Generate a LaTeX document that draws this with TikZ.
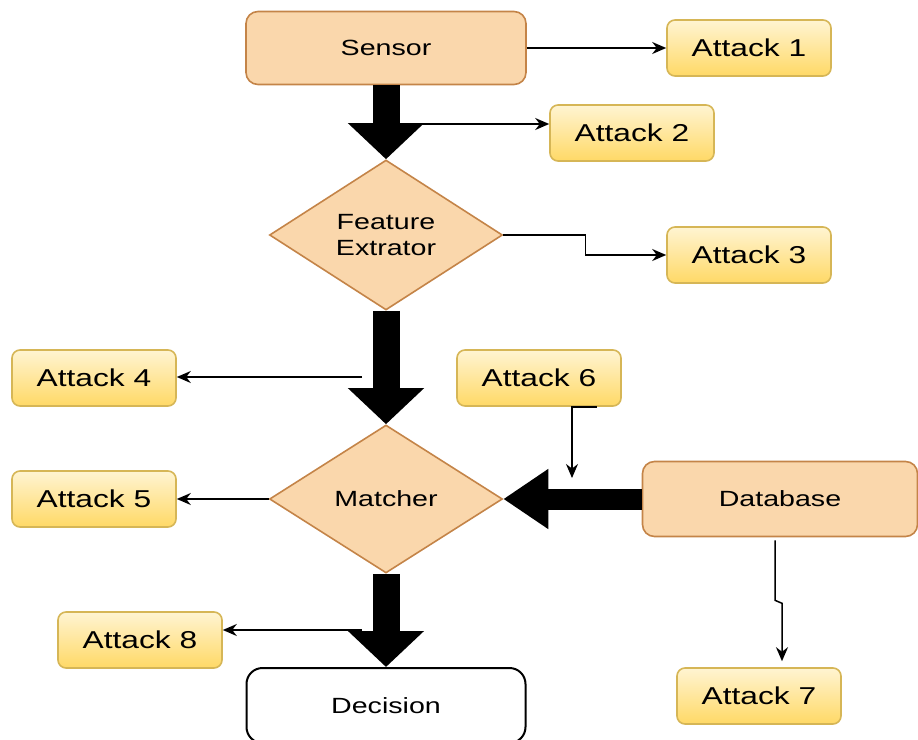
\documentclass[tikz,border=0pt]{standalone}
\usepackage{fontspec}
\setmainfont[FakeStretch=1.3]{Liberation Sans}
\usetikzlibrary{arrows.meta,calc,shapes.geometric}
\definecolor{peach}{HTML}{FAD7AC}
\definecolor{peachline}{RGB}{196,132,72}
\definecolor{atklight}{HTML}{FFF4D2}
\definecolor{atkdark}{HTML}{FFD966}
\definecolor{atkline}{HTML}{D6B656}
\tikzset{
	stage/.style={draw=peachline, fill=peach, line width=0.8pt, rounded corners=6pt, minimum width=140pt, minimum height=36.5pt, font=\fontsize{11}{13}\selectfont},
	check/.style={shape=diamond, aspect=1.55, draw=peachline, fill=peach, line width=0.8pt, inner sep=0pt, minimum width=116.5pt, minimum height=75pt, align=center, font=\fontsize{11}{13}\selectfont},
	attack/.style={draw=atkline, top color=atklight, bottom color=atkdark, line width=0.8pt, rounded corners=4pt, minimum width=82pt, minimum height=28pt, font=\fontsize{12.2}{14}\selectfont},
	fat/.style={line width=13.5pt, -{Triangle[width=37pt,length=18pt]}},
	fatside/.style={line width=10.5pt, -{Triangle[width=28.5pt,length=22.5pt]}},
	hit/.style={line width=0.75pt, -{Stealth[length=7pt,width=6pt]}}
}

\begin{document}
\begin{tikzpicture}[x=0.5pt, y=-0.5pt]
			%%%%% START %%%%%
			\useasboundingbox (0, 0) rectangle (918, 740);
			
			\node[stage] (sensor) at (386, 48) {Sensor};
			\node[check] (feat) at (386, 235) {Feature\\Extrator};
			\node[check, minimum height=74pt] (matcher) at (386, 499) {Matcher};
			\node[stage, minimum width=137.5pt, minimum height=37.5pt] (db) at (780, 499) {Database};
			\node[stage, draw=black, fill=white, line width=1pt, rounded corners=8pt, minimum width=139.5pt, minimum height=37.5pt] (decision) at (386, 705.5) {Decision};
			
			\node[attack] (a1) at (749, 48) {Attack 1};
			\node[attack] (a2) at (632, 133) {Attack 2};
			\node[attack] (a3) at (749, 255) {Attack 3};
			\node[attack] (a4) at (94, 378) {Attack 4};
			\node[attack] (a5) at (94, 499) {Attack 5};
			\node[attack] (a6) at (539, 378) {Attack 6};
			\node[attack] (a7) at (759, 696) {Attack 7};
			\node[attack] (a8) at (140, 640) {Attack 8};
			
			% main flow
			\draw[fat] (sensor.south) -- (feat.north);
			\draw[fat] (feat.south) -- (matcher.north);
			\draw[fat] (matcher.south) -- (decision.north);
			\draw[fatside] (db.west) -- (matcher.east);
			
			% attack points
			\coordinate (tap2) at (410, 124);
			\coordinate (tap4) at (362, 377);
			\coordinate (tap8) at (362, 630);
			\coordinate (hit6) at (572, 478);
			
			\draw[hit] (sensor.east) -- (a1.west);
			\draw[hit] (tap2) -- (a2.west |- tap2);
			\draw[hit] (feat.east) -- ++(82, 0) |- (a3.west);
			\draw[hit] (tap4) -- (a4.east |- tap4);
			\draw[hit] (matcher.west) -- (a5.east);
			\draw[hit] ($(a6.south)+(58, 0)$) -| (hit6);
			\draw[hit] ($(db.south)+(-5, 3)$) -- ++(0, 60) -- ++(7, 3) -- ($(a7.north)+(23, -6)$);
			\draw[hit] (tap8) -- (a8.east |- tap8);
			
			%%%%% END %%%%%
\end{tikzpicture}
\end{document}
